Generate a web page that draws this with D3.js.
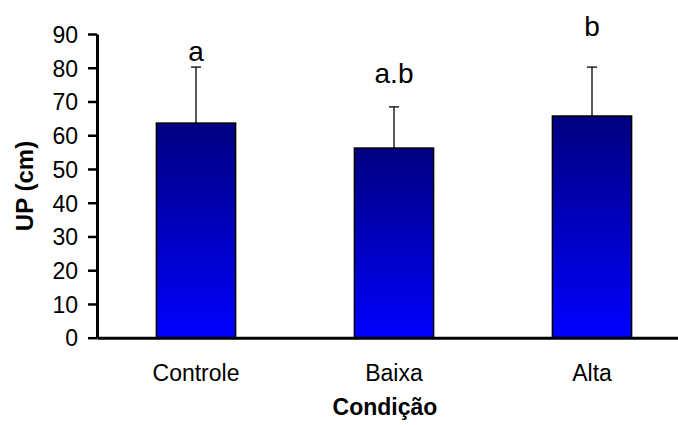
<!DOCTYPE html>
<head>
  <meta charset="utf-8">
  <script src="https://d3js.org/d3.v7.min.js"></script>
  <style>
    body { margin: 0; background: #fff; }
    text { font-family: "Liberation Sans", Arial, sans-serif; }
  </style>
</head>
<body>

<div id="my_dataviz"></div>

<script>

  // data
  var categories = ["Controle", "Baixa", "Alta"];
  var means = [63.6, 56.2, 65.7];
  var errors = [16.6, 12.2, 14.5];
  var letters = ["a", "a.b", "b"];
  var letterPos = [82, 75.5, 89.4];
  var yTicks = [0, 10, 20, 30, 40, 50, 60, 70, 80, 90];

  var W = 678, H = 425;

  var svg = d3.select("#my_dataviz")
    .append("svg")
      .attr("width", W)
      .attr("height", H);

  // vertical gradient: navy on top, bright blue at the bottom
  var grad = svg.append("defs").append("linearGradient")
    .attr("id", "barGrad")
    .attr("x1", 0).attr("y1", 0).attr("x2", 0).attr("y2", 1);
  grad.append("stop").attr("offset", "0%").attr("stop-color", "#000080");
  grad.append("stop").attr("offset", "100%").attr("stop-color", "#0000ff");

  var x = d3.scaleBand()
    .domain(categories)
    .range([97, 691])
    .paddingInner(0.6)
    .paddingOuter(0.3);

  var y = d3.scaleLinear()
    .domain([0, 90])
    .range([337.7, 34]);

  // bars
  svg.selectAll(".bar")
    .data(categories)
    .enter()
    .append("rect")
      .attr("class", "bar")
      .attr("x", function(d) { return x(d); })
      .attr("y", function(d, i) { return y(means[i]); })
      .attr("width", x.bandwidth())
      .attr("height", function(d, i) { return y(0) - y(means[i]); })
      .style("fill", "url(#barGrad)")
      .style("stroke", "#000")
      .style("stroke-width", 1.5);

  // error bars (upper only)
  var err = svg.selectAll(".err")
    .data(categories)
    .enter()
    .append("g")
      .attr("class", "err")
      .attr("transform", function(d) { return "translate(" + (x(d) + x.bandwidth() / 2) + ",0)"; });

  err.append("line")
    .attr("x1", 0).attr("x2", 0)
    .attr("y1", function(d, i) { return y(means[i]); })
    .attr("y2", function(d, i) { return y(means[i] + errors[i]); })
    .style("stroke", "#000")
    .style("stroke-width", 1.3);

  err.append("line")
    .attr("x1", -5).attr("x2", 5)
    .attr("y1", function(d, i) { return y(means[i] + errors[i]); })
    .attr("y2", function(d, i) { return y(means[i] + errors[i]); })
    .style("stroke", "#000")
    .style("stroke-width", 1.3);

  // significance letters
  svg.selectAll(".letter")
    .data(categories)
    .enter()
    .append("text")
      .attr("class", "letter")
      .attr("x", function(d) { return x(d) + x.bandwidth() / 2; })
      .attr("y", function(d, i) { return y(letterPos[i]); })
      .attr("text-anchor", "middle")
      .style("font-size", "28px")
      .text(function(d, i) { return letters[i]; });

  // y axis
  var yAxis = svg.append("g")
    .attr("transform", "translate(97,0)")
    .call(d3.axisLeft(y).tickValues(yTicks).tickSizeInner(9).tickSizeOuter(0).tickPadding(10));
  yAxis.select(".domain").style("stroke-width", 3);
  yAxis.selectAll(".tick line").style("stroke-width", 2.5);
  yAxis.selectAll(".tick text")
    .style("font-size", "23px")
    .style("font-family", "'Liberation Sans', Arial, sans-serif")
    .attr("dy", "0.36em");

  // x axis
  var xAxis = svg.append("g")
    .attr("transform", "translate(0," + y(0) + ")")
    .call(d3.axisBottom(x).tickSize(0).tickPadding(27));
  xAxis.select(".domain").style("stroke-width", 3);
  xAxis.selectAll(".tick text")
    .style("font-size", "23px")
    .style("font-family", "'Liberation Sans', Arial, sans-serif");

  // axis titles
  svg.append("text")
    .attr("transform", "translate(33,186) rotate(-90)")
    .attr("text-anchor", "middle")
    .style("font-size", "24px")
    .style("font-weight", "bold")
    .text("UP (cm)");

  svg.append("text")
    .attr("x", 385)
    .attr("y", 415)
    .attr("text-anchor", "middle")
    .style("font-size", "23px")
    .style("font-weight", "bold")
    .text("Condição");

</script>

</body>
